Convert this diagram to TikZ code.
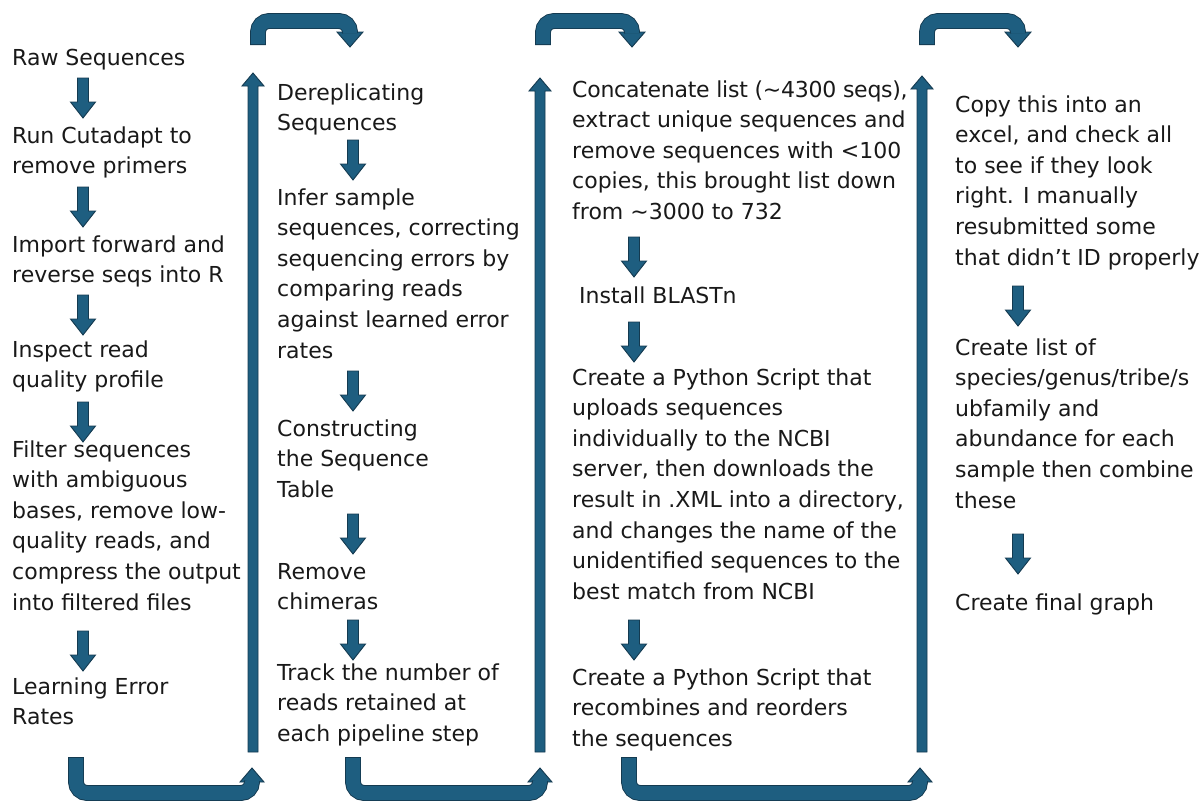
\documentclass[tikz,border=0pt]{standalone}
\usepackage{fontspec}
\newfontfamily\txtfont{DejaVu Sans}
\definecolor{arrfill}{RGB}{30,94,128}
\definecolor{arrline}{RGB}{20,58,80}
\definecolor{txt}{RGB}{25,25,25}
\newcommand\steptext[1]{\begin{tabular}[t]{@{}l@{}}#1\end{tabular}}
\tikzset{
  stepbox/.style={anchor=base west, inner sep=0pt,
    font=\txtfont\fontsize{22}{30.6}\selectfont, text=txt},
  blk/.style={fill=arrfill, draw=arrline, line width=0.9pt, line join=miter},
  pics/dnarr/.style={code={
    \path[blk] (-5.5,0) -- (5.5,0) -- (5.5,24) -- (12.5,24) -- (0,40)
      -- (-12.5,24) -- (-5.5,24) -- cycle;}},
  bandout/.style={draw=arrline, line width=15.8pt, line cap=butt},
  bandin/.style={draw=arrfill, line width=14pt, line cap=butt},
}
\begin{document}
\begin{tikzpicture}[x=1pt,y=-1pt]
\useasboundingbox[fill=white] (0,0) rectangle (1203,803);

% ---------- column 1
\node[stepbox] (raw) at (12,65) {\steptext{Raw Sequences}};
\node[stepbox] (cut) at (12,143) {\steptext{Run Cutadapt to\\remove primers}};
\node[stepbox] (imp) at (12,252) {\steptext{Import forward and\\reverse seqs into R}};
\node[stepbox] (insp) at (12,357) {\steptext{Inspect read\\quality profile}};
\node[stepbox] (filt) at (12,457) {\steptext{Filter sequences\\with ambiguous\\bases, remove low-\\quality reads, and\\compress the output\\into filtered files}};
\node[stepbox] (learn) at (12,694) {\steptext{Learning Error\\Rates}};
\pic (d11) at (83,78) {dnarr};
\pic (d12) at (83,187) {dnarr};
\pic (d13) at (83,295) {dnarr};
\pic (d14) at (83,402) {dnarr};
\pic (d15) at (83,631) {dnarr};

% ---------- column 2
\node[stepbox] (derep) at (277,100) {\steptext{Dereplicating\\Sequences}};
\node[stepbox] (infer) at (277,205) {\steptext{Infer sample\\sequences, correcting\\sequencing errors by\\comparing reads\\against learned error\\rates}};
\node[stepbox] (cons) at (277,436) {\steptext{Constructing\\the Sequence\\Table}};
\node[stepbox] (chim) at (277,579) {\steptext{Remove\\chimeras}};
\node[stepbox] (track) at (277,680) {\steptext{Track the number of\\reads retained at\\each pipeline step}};
\pic (d21) at (353,140) {dnarr};
\pic (d22) at (353,371) {dnarr};
\pic (d23) at (353,514) {dnarr};
\pic (d24) at (353,620) {dnarr};

% ---------- column 3
\node[stepbox] (concat) at (572,97) {\steptext{{\addfontfeature{LetterSpace=-1.2}Concatenate list (\textasciitilde 4300 seqs),}\\extract unique sequences and\\remove sequences with <100\\copies, this brought list down\\from \textasciitilde 3000 to 732}};
\node[stepbox] (blast) at (579,303) {\steptext{Install BLASTn}};
\node[stepbox] (py1) at (572,385) {\steptext{Create a Python Script that\\uploads sequences\\individually to the NCBI\\server, then downloads the\\result in .XML into a directory,\\and changes the name of the\\unidentified sequences to the\\best match from NCBI}};
\node[stepbox] (py2) at (572,685) {\steptext{Create a Python Script that\\recombines and reorders\\the sequences}};
\pic (d31) at (634,237) {dnarr};
\pic (d32) at (634,322) {dnarr};
\pic (d33) at (634,620) {dnarr};

% ---------- column 4
\node[stepbox] (copy) at (955,112) {\steptext{Copy this into an\\excel, and check all\\to see if they look\\right. I manually\\resubmitted some\\that didn’t ID properly}};
\node[stepbox] (list) at (955,355) {\steptext{Create list of\\species/genus/tribe/s\\ubfamily and\\abundance for each\\sample then combine\\these}};
\node[stepbox] (final) at (955,610) {\steptext{Create final graph}};
\pic (d41) at (1018,286) {dnarr};
\pic (d42) at (1018,534) {dnarr};

% ---------- long up arrows
\path[blk] (248,752) -- (258,752) -- (258,86) -- (264,86) -- (253,73) -- (242,86) -- (248,86) -- cycle;
\path[blk] (535,752) -- (545,752) -- (545,91) -- (551,91) -- (540,78) -- (529,91) -- (535,91) -- cycle;
\path[blk] (917,752) -- (927,752) -- (927,89) -- (933,89) -- (922,76) -- (911,89) -- (917,89) -- cycle;

% ---------- bottom U-turns
\path[blk] (240,782) -- (252,768) -- (264,782) -- cycle;
\draw[bandout, rounded corners=11pt] (76,757) -- (76,793) -- (252,793) -- (252,781);
\draw[bandin, rounded corners=11pt] (76,758) -- (76,793) -- (252,793) -- (252,781);

\path[blk] (528,782) -- (540,768) -- (552,782) -- cycle;
\draw[bandout, rounded corners=11pt] (353,757) -- (353,793) -- (540,793) -- (540,781);
\draw[bandin, rounded corners=11pt] (353,758) -- (353,793) -- (540,793) -- (540,781);

\path[blk] (908,782) -- (920,768) -- (932,782) -- cycle;
\draw[bandout, rounded corners=11pt] (629,757) -- (629,793) -- (920,793) -- (920,781);
\draw[bandin, rounded corners=11pt] (629,758) -- (629,793) -- (920,793) -- (920,781);

% ---------- top U-turns
\path[blk] (337,32) -- (363,32) -- (350,47) -- cycle;
\draw[bandout, rounded corners=11pt] (258,45) -- (258,21) -- (350,21) -- (350,33);
\draw[bandin, rounded corners=11pt] (258,44) -- (258,21) -- (350,21) -- (350,33);

\path[blk] (619,32) -- (645,32) -- (632,47) -- cycle;
\draw[bandout, rounded corners=11pt] (543,45) -- (543,21) -- (632,21) -- (632,33);
\draw[bandin, rounded corners=11pt] (543,44) -- (543,21) -- (632,21) -- (632,33);

\path[blk] (1005,32) -- (1031,32) -- (1018,47) -- cycle;
\draw[bandout, rounded corners=11pt] (927,45) -- (927,21) -- (1018,21) -- (1018,33);
\draw[bandin, rounded corners=11pt] (927,44) -- (927,21) -- (1018,21) -- (1018,33);
\end{tikzpicture}
\end{document}
